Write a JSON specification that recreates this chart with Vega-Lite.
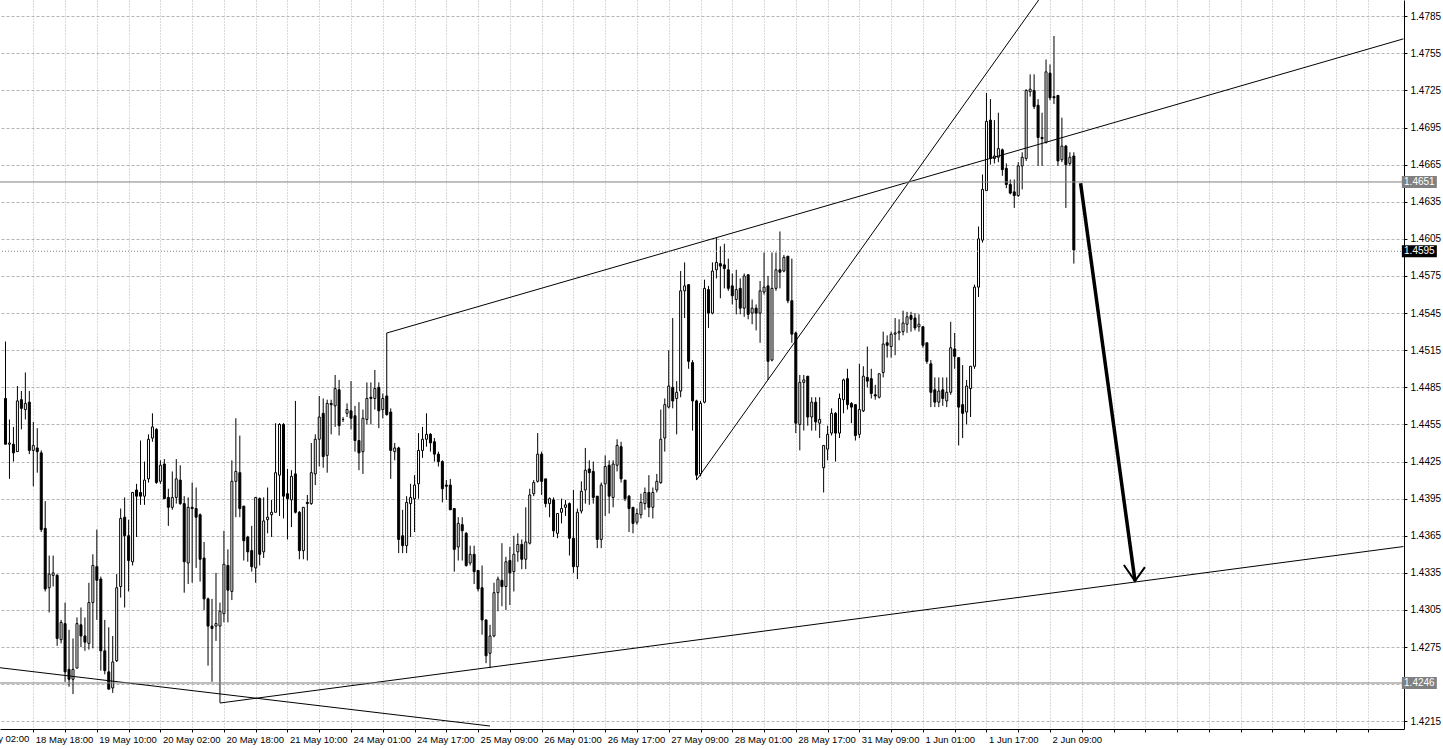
{
"$schema": "https://vega.github.io/schema/vega-lite/v6.json",
"width": 1404, "height": 729,
"autosize": {"type": "none"},
"padding": {"left": 0, "top": 0, "right": 39, "bottom": 20},
"background": "white",
"config": {"view": {"stroke": null}, "axis": {"labelFont": "Liberation Sans", "labelFontSize": 10, "labelColor": "black", "domainColor": "black", "tickColor": "black", "domainWidth": 1}},
"datasets": {
"bars": [
{"i":0,"o":1.4476,"h":1.4522,"l":1.4439,"c":1.4439},
{"i":1,"o":1.4439,"h":1.4459,"l":1.4411,"c":1.4440},
{"i":2,"o":1.4439,"h":1.4453,"l":1.4425,"c":1.4432},
{"i":3,"o":1.4433,"h":1.4486,"l":1.4433,"c":1.4474},
{"i":4,"o":1.4475,"h":1.4482,"l":1.4451,"c":1.4468},
{"i":5,"o":1.4467,"h":1.4497,"l":1.4459,"c":1.4472},
{"i":6,"o":1.4473,"h":1.4482,"l":1.4431,"c":1.4434},
{"i":7,"o":1.4434,"h":1.4457,"l":1.4405,"c":1.4438},
{"i":8,"o":1.4436,"h":1.4452,"l":1.4416,"c":1.4433},
{"i":9,"o":1.4432,"h":1.4434,"l":1.4368,"c":1.4370},
{"i":10,"o":1.4371,"h":1.4393,"l":1.4320,"c":1.4322},
{"i":11,"o":1.4323,"h":1.4349,"l":1.4303,"c":1.4334},
{"i":12,"o":1.4333,"h":1.4349,"l":1.4324,"c":1.4335},
{"i":13,"o":1.4333,"h":1.4334,"l":1.4276,"c":1.4282},
{"i":14,"o":1.4281,"h":1.4297,"l":1.4278,"c":1.4295},
{"i":15,"o":1.4294,"h":1.4311,"l":1.4247,"c":1.4255},
{"i":16,"o":1.4257,"h":1.4289,"l":1.4243,"c":1.4249},
{"i":17,"o":1.4249,"h":1.4282,"l":1.4237,"c":1.4257},
{"i":18,"o":1.4258,"h":1.4299,"l":1.4258,"c":1.4294},
{"i":19,"o":1.4293,"h":1.4307,"l":1.4275,"c":1.4284},
{"i":20,"o":1.4284,"h":1.4299,"l":1.4272,"c":1.4279},
{"i":21,"o":1.4278,"h":1.4327,"l":1.4273,"c":1.4311},
{"i":22,"o":1.4311,"h":1.4350,"l":1.4274,"c":1.4341},
{"i":23,"o":1.4340,"h":1.4370,"l":1.4297,"c":1.4329},
{"i":24,"o":1.4330,"h":1.4332,"l":1.4256,"c":1.4272},
{"i":25,"o":1.4272,"h":1.4297,"l":1.4253,"c":1.4256},
{"i":26,"o":1.4255,"h":1.4291,"l":1.4241,"c":1.4241},
{"i":27,"o":1.4242,"h":1.4284,"l":1.4238,"c":1.4263},
{"i":28,"o":1.4264,"h":1.4334,"l":1.4263,"c":1.4323},
{"i":29,"o":1.4324,"h":1.4387,"l":1.4315,"c":1.4379},
{"i":30,"o":1.4380,"h":1.4396,"l":1.4307,"c":1.4365},
{"i":31,"o":1.4365,"h":1.4378,"l":1.4320,"c":1.4345},
{"i":32,"o":1.4344,"h":1.4400,"l":1.4341,"c":1.4400},
{"i":33,"o":1.4402,"h":1.4407,"l":1.4364,"c":1.4397},
{"i":34,"o":1.4400,"h":1.4442,"l":1.4390,"c":1.4397},
{"i":35,"o":1.4397,"h":1.4425,"l":1.4390,"c":1.4410},
{"i":36,"o":1.4411,"h":1.4447,"l":1.4408,"c":1.4443},
{"i":37,"o":1.4444,"h":1.4464,"l":1.4441,"c":1.4453},
{"i":38,"o":1.4451,"h":1.4452,"l":1.4407,"c":1.4408},
{"i":39,"o":1.4409,"h":1.4426,"l":1.4407,"c":1.4422},
{"i":40,"o":1.4423,"h":1.4427,"l":1.4395,"c":1.4395},
{"i":41,"o":1.4396,"h":1.4403,"l":1.4373,"c":1.4388},
{"i":42,"o":1.4388,"h":1.4417,"l":1.4386,"c":1.4396},
{"i":43,"o":1.4396,"h":1.4427,"l":1.4391,"c":1.4411},
{"i":44,"o":1.4410,"h":1.4422,"l":1.4390,"c":1.4391},
{"i":45,"o":1.4391,"h":1.4397,"l":1.4319,"c":1.4344},
{"i":46,"o":1.4343,"h":1.4396,"l":1.4326,"c":1.4388},
{"i":47,"o":1.4388,"h":1.4408,"l":1.4327,"c":1.4387},
{"i":48,"o":1.4387,"h":1.4404,"l":1.4339,"c":1.4380},
{"i":49,"o":1.4382,"h":1.4383,"l":1.4328,"c":1.4346},
{"i":50,"o":1.4347,"h":1.4360,"l":1.4305,"c":1.4314},
{"i":51,"o":1.4314,"h":1.4315,"l":1.4260,"c":1.4292},
{"i":52,"o":1.4292,"h":1.4314,"l":1.4247,"c":1.4290},
{"i":53,"o":1.4292,"h":1.4335,"l":1.4280,"c":1.4294},
{"i":54,"o":1.4292,"h":1.4311,"l":1.4230,"c":1.4304},
{"i":55,"o":1.4302,"h":1.4369,"l":1.4295,"c":1.4342},
{"i":56,"o":1.4341,"h":1.4354,"l":1.4295,"c":1.4321},
{"i":57,"o":1.4320,"h":1.4426,"l":1.4313,"c":1.4409},
{"i":58,"o":1.4409,"h":1.4460,"l":1.4380,"c":1.4417},
{"i":59,"o":1.4416,"h":1.4446,"l":1.4380,"c":1.4387},
{"i":60,"o":1.4389,"h":1.4389,"l":1.4345,"c":1.4361},
{"i":61,"o":1.4364,"h":1.4365,"l":1.4344,"c":1.4352},
{"i":62,"o":1.4353,"h":1.4373,"l":1.4336,"c":1.4340},
{"i":63,"o":1.4339,"h":1.4396,"l":1.4327,"c":1.4396},
{"i":64,"o":1.4395,"h":1.4396,"l":1.4341,"c":1.4350},
{"i":65,"o":1.4352,"h":1.4396,"l":1.4347,"c":1.4377},
{"i":66,"o":1.4378,"h":1.4404,"l":1.4367,"c":1.4380},
{"i":67,"o":1.4382,"h":1.4394,"l":1.4364,"c":1.4384},
{"i":68,"o":1.4384,"h":1.4456,"l":1.4384,"c":1.4416},
{"i":69,"o":1.4414,"h":1.4456,"l":1.4381,"c":1.4455},
{"i":70,"o":1.4455,"h":1.4456,"l":1.4379,"c":1.4397},
{"i":71,"o":1.4399,"h":1.4419,"l":1.4362,"c":1.4395},
{"i":72,"o":1.4394,"h":1.4418,"l":1.4372,"c":1.4413},
{"i":73,"o":1.4415,"h":1.4474,"l":1.4383,"c":1.4384},
{"i":74,"o":1.4384,"h":1.4385,"l":1.4346,"c":1.4353},
{"i":75,"o":1.4353,"h":1.4388,"l":1.4346,"c":1.4388},
{"i":76,"o":1.4392,"h":1.4398,"l":1.4345,"c":1.4391},
{"i":77,"o":1.4391,"h":1.4440,"l":1.4390,"c":1.4416},
{"i":78,"o":1.4415,"h":1.4447,"l":1.4406,"c":1.4443},
{"i":79,"o":1.4443,"h":1.4478,"l":1.4421,"c":1.4461},
{"i":80,"o":1.4464,"h":1.4476,"l":1.4420,"c":1.4429},
{"i":81,"o":1.4430,"h":1.4475,"l":1.4416,"c":1.4472},
{"i":82,"o":1.4472,"h":1.4475,"l":1.4447,"c":1.4471},
{"i":83,"o":1.4470,"h":1.4495,"l":1.4453,"c":1.4484},
{"i":84,"o":1.4483,"h":1.4491,"l":1.4446,"c":1.4454},
{"i":85,"o":1.4459,"h":1.4461,"l":1.4457,"c":1.4459},
{"i":86,"o":1.4464,"h":1.4472,"l":1.4461,"c":1.4467},
{"i":87,"o":1.4466,"h":1.4490,"l":1.4451,"c":1.4460},
{"i":88,"o":1.4462,"h":1.4470,"l":1.4433,"c":1.4442},
{"i":89,"o":1.4442,"h":1.4473,"l":1.4418,"c":1.4432},
{"i":90,"o":1.4433,"h":1.4467,"l":1.4415,"c":1.4460},
{"i":91,"o":1.4459,"h":1.4489,"l":1.4455,"c":1.4476},
{"i":92,"o":1.4477,"h":1.4489,"l":1.4455,"c":1.4476},
{"i":93,"o":1.4476,"h":1.4499,"l":1.4467,"c":1.4484},
{"i":94,"o":1.4485,"h":1.4489,"l":1.4452,"c":1.4466},
{"i":95,"o":1.4467,"h":1.4480,"l":1.4460,"c":1.4476},
{"i":96,"o":1.4478,"h":1.4529,"l":1.4462,"c":1.4463},
{"i":97,"o":1.4465,"h":1.4468,"l":1.4411,"c":1.4434},
{"i":98,"o":1.4433,"h":1.4440,"l":1.4426,"c":1.4436},
{"i":99,"o":1.4436,"h":1.4437,"l":1.4351,"c":1.4362},
{"i":100,"o":1.4365,"h":1.4386,"l":1.4351,"c":1.4357},
{"i":101,"o":1.4357,"h":1.4397,"l":1.4351,"c":1.4392},
{"i":102,"o":1.4391,"h":1.4407,"l":1.4364,"c":1.4396},
{"i":103,"o":1.4395,"h":1.4414,"l":1.4368,"c":1.4406},
{"i":104,"o":1.4407,"h":1.4448,"l":1.4395,"c":1.4434},
{"i":105,"o":1.4434,"h":1.4453,"l":1.4428,"c":1.4443},
{"i":106,"o":1.4443,"h":1.4464,"l":1.4437,"c":1.4447},
{"i":107,"o":1.4447,"h":1.4448,"l":1.4433,"c":1.4440},
{"i":108,"o":1.4441,"h":1.4444,"l":1.4425,"c":1.4431},
{"i":109,"o":1.4431,"h":1.4433,"l":1.4421,"c":1.4425},
{"i":110,"o":1.4425,"h":1.4426,"l":1.4392,"c":1.4403},
{"i":111,"o":1.4406,"h":1.4410,"l":1.4394,"c":1.4405},
{"i":112,"o":1.4406,"h":1.4411,"l":1.4386,"c":1.4386},
{"i":113,"o":1.4387,"h":1.4387,"l":1.4336,"c":1.4354},
{"i":114,"o":1.4356,"h":1.4380,"l":1.4345,"c":1.4375},
{"i":115,"o":1.4374,"h":1.4380,"l":1.4345,"c":1.4369},
{"i":116,"o":1.4367,"h":1.4368,"l":1.4340,"c":1.4341},
{"i":117,"o":1.4343,"h":1.4357,"l":1.4341,"c":1.4350},
{"i":118,"o":1.4350,"h":1.4357,"l":1.4326,"c":1.4336},
{"i":119,"o":1.4337,"h":1.4337,"l":1.4320,"c":1.4322},
{"i":120,"o":1.4323,"h":1.4341,"l":1.4285,"c":1.4297},
{"i":121,"o":1.4297,"h":1.4297,"l":1.4262,"c":1.4268},
{"i":122,"o":1.4270,"h":1.4293,"l":1.4258,"c":1.4284},
{"i":123,"o":1.4284,"h":1.4327,"l":1.4283,"c":1.4319},
{"i":124,"o":1.4319,"h":1.4332,"l":1.4304,"c":1.4330},
{"i":125,"o":1.4329,"h":1.4359,"l":1.4308,"c":1.4324},
{"i":126,"o":1.4324,"h":1.4348,"l":1.4305,"c":1.4344},
{"i":127,"o":1.4345,"h":1.4356,"l":1.4309,"c":1.4335},
{"i":128,"o":1.4336,"h":1.4365,"l":1.4320,"c":1.4350},
{"i":129,"o":1.4352,"h":1.4367,"l":1.4344,"c":1.4358},
{"i":130,"o":1.4358,"h":1.4362,"l":1.4338,"c":1.4346},
{"i":131,"o":1.4346,"h":1.4388,"l":1.4338,"c":1.4360},
{"i":132,"o":1.4359,"h":1.4403,"l":1.4358,"c":1.4398},
{"i":133,"o":1.4399,"h":1.4410,"l":1.4397,"c":1.4408},
{"i":134,"o":1.4409,"h":1.4448,"l":1.4408,"c":1.4431},
{"i":135,"o":1.4431,"h":1.4433,"l":1.4398,"c":1.4409},
{"i":136,"o":1.4411,"h":1.4411,"l":1.4388,"c":1.4391},
{"i":137,"o":1.4391,"h":1.4396,"l":1.4380,"c":1.4395},
{"i":138,"o":1.4394,"h":1.4396,"l":1.4364,"c":1.4369},
{"i":139,"o":1.4367,"h":1.4383,"l":1.4363,"c":1.4383},
{"i":140,"o":1.4384,"h":1.4395,"l":1.4375,"c":1.4387},
{"i":141,"o":1.4388,"h":1.4394,"l":1.4381,"c":1.4390},
{"i":142,"o":1.4391,"h":1.4392,"l":1.4349,"c":1.4363},
{"i":143,"o":1.4363,"h":1.4402,"l":1.4335,"c":1.4340},
{"i":144,"o":1.4340,"h":1.4387,"l":1.4330,"c":1.4384},
{"i":145,"o":1.4385,"h":1.4409,"l":1.4383,"c":1.4401},
{"i":146,"o":1.4402,"h":1.4436,"l":1.4391,"c":1.4418},
{"i":147,"o":1.4419,"h":1.4426,"l":1.4390,"c":1.4416},
{"i":148,"o":1.4417,"h":1.4425,"l":1.4391,"c":1.4396},
{"i":149,"o":1.4397,"h":1.4397,"l":1.4355,"c":1.4362},
{"i":150,"o":1.4362,"h":1.4408,"l":1.4355,"c":1.4406},
{"i":151,"o":1.4407,"h":1.4430,"l":1.4381,"c":1.4421},
{"i":152,"o":1.4422,"h":1.4426,"l":1.4383,"c":1.4397},
{"i":153,"o":1.4396,"h":1.4426,"l":1.4388,"c":1.4423},
{"i":154,"o":1.4422,"h":1.4443,"l":1.4417,"c":1.4438},
{"i":155,"o":1.4437,"h":1.4441,"l":1.4408,"c":1.4411},
{"i":156,"o":1.4410,"h":1.4410,"l":1.4393,"c":1.4395},
{"i":157,"o":1.4397,"h":1.4398,"l":1.4368,"c":1.4387},
{"i":158,"o":1.4388,"h":1.4388,"l":1.4367,"c":1.4375},
{"i":159,"o":1.4376,"h":1.4387,"l":1.4374,"c":1.4383},
{"i":160,"o":1.4382,"h":1.4399,"l":1.4379,"c":1.4392},
{"i":161,"o":1.4391,"h":1.4404,"l":1.4386,"c":1.4400},
{"i":162,"o":1.4400,"h":1.4414,"l":1.4380,"c":1.4388},
{"i":163,"o":1.4388,"h":1.4404,"l":1.4379,"c":1.4400},
{"i":164,"o":1.4402,"h":1.4415,"l":1.4400,"c":1.4409},
{"i":165,"o":1.4408,"h":1.4467,"l":1.4407,"c":1.4443},
{"i":166,"o":1.4444,"h":1.4476,"l":1.4433,"c":1.4471},
{"i":167,"o":1.4469,"h":1.4515,"l":1.4468,"c":1.4486},
{"i":168,"o":1.4485,"h":1.4541,"l":1.4468,"c":1.4474},
{"i":169,"o":1.4476,"h":1.4490,"l":1.4447,"c":1.4481},
{"i":170,"o":1.4482,"h":1.4579,"l":1.4477,"c":1.4563},
{"i":171,"o":1.4563,"h":1.4586,"l":1.4541,"c":1.4567},
{"i":172,"o":1.4568,"h":1.4568,"l":1.4500,"c":1.4506},
{"i":173,"o":1.4505,"h":1.4507,"l":1.4450,"c":1.4474},
{"i":174,"o":1.4474,"h":1.4475,"l":1.4410,"c":1.4414},
{"i":175,"o":1.4415,"h":1.4474,"l":1.4413,"c":1.4472},
{"i":176,"o":1.4473,"h":1.4572,"l":1.4472,"c":1.4565},
{"i":177,"o":1.4564,"h":1.4567,"l":1.4533,"c":1.4545},
{"i":178,"o":1.4545,"h":1.4586,"l":1.4544,"c":1.4579},
{"i":179,"o":1.4580,"h":1.4606,"l":1.4573,"c":1.4586},
{"i":180,"o":1.4585,"h":1.4599,"l":1.4557,"c":1.4583},
{"i":181,"o":1.4584,"h":1.4601,"l":1.4565,"c":1.4581},
{"i":182,"o":1.4580,"h":1.4589,"l":1.4563,"c":1.4565},
{"i":183,"o":1.4567,"h":1.4577,"l":1.4552,"c":1.4559},
{"i":184,"o":1.4556,"h":1.4580,"l":1.4544,"c":1.4564},
{"i":185,"o":1.4565,"h":1.4573,"l":1.4544,"c":1.4549},
{"i":186,"o":1.4549,"h":1.4577,"l":1.4542,"c":1.4575},
{"i":187,"o":1.4576,"h":1.4576,"l":1.4540,"c":1.4544},
{"i":188,"o":1.4545,"h":1.4556,"l":1.4536,"c":1.4549},
{"i":189,"o":1.4549,"h":1.4552,"l":1.4531,"c":1.4545},
{"i":190,"o":1.4545,"h":1.4571,"l":1.4521,"c":1.4563},
{"i":191,"o":1.4562,"h":1.4594,"l":1.4560,"c":1.4566},
{"i":192,"o":1.4567,"h":1.4575,"l":1.4491,"c":1.4506},
{"i":193,"o":1.4507,"h":1.4594,"l":1.4506,"c":1.4565},
{"i":194,"o":1.4565,"h":1.4594,"l":1.4563,"c":1.4580},
{"i":195,"o":1.4580,"h":1.4611,"l":1.4565,"c":1.4578},
{"i":196,"o":1.4579,"h":1.4592,"l":1.4578,"c":1.4590},
{"i":197,"o":1.4591,"h":1.4591,"l":1.4553,"c":1.4555},
{"i":198,"o":1.4555,"h":1.4589,"l":1.4521,"c":1.4528},
{"i":199,"o":1.4529,"h":1.4530,"l":1.4448,"c":1.4456},
{"i":200,"o":1.4455,"h":1.4495,"l":1.4434,"c":1.4489},
{"i":201,"o":1.4489,"h":1.4495,"l":1.4450,"c":1.4491},
{"i":202,"o":1.4494,"h":1.4494,"l":1.4454,"c":1.4461},
{"i":203,"o":1.4461,"h":1.4477,"l":1.4450,"c":1.4473},
{"i":204,"o":1.4473,"h":1.4477,"l":1.4450,"c":1.4457},
{"i":205,"o":1.4456,"h":1.4477,"l":1.4444,"c":1.4459},
{"i":206,"o":1.4420,"h":1.4438,"l":1.4400,"c":1.4438},
{"i":207,"o":1.4435,"h":1.4454,"l":1.4426,"c":1.4447},
{"i":208,"o":1.4448,"h":1.4468,"l":1.4446,"c":1.4464},
{"i":209,"o":1.4464,"h":1.4465,"l":1.4425,"c":1.4448},
{"i":210,"o":1.4448,"h":1.4480,"l":1.4444,"c":1.4476},
{"i":211,"o":1.4475,"h":1.4492,"l":1.4464,"c":1.4491},
{"i":212,"o":1.4492,"h":1.4500,"l":1.4467,"c":1.4471},
{"i":213,"o":1.4472,"h":1.4473,"l":1.4456,"c":1.4469},
{"i":214,"o":1.4471,"h":1.4471,"l":1.4442,"c":1.4446},
{"i":215,"o":1.4447,"h":1.4504,"l":1.4444,"c":1.4467},
{"i":216,"o":1.4466,"h":1.4502,"l":1.4465,"c":1.4494},
{"i":217,"o":1.4493,"h":1.4518,"l":1.4485,"c":1.4490},
{"i":218,"o":1.4492,"h":1.4500,"l":1.4476,"c":1.4480},
{"i":219,"o":1.4479,"h":1.4487,"l":1.4475,"c":1.4478},
{"i":220,"o":1.4477,"h":1.4496,"l":1.4476,"c":1.4496},
{"i":221,"o":1.4497,"h":1.4530,"l":1.4493,"c":1.4520},
{"i":222,"o":1.4521,"h":1.4527,"l":1.4509,"c":1.4519},
{"i":223,"o":1.4518,"h":1.4530,"l":1.4509,"c":1.4528},
{"i":224,"o":1.4528,"h":1.4541,"l":1.4511,"c":1.4529},
{"i":225,"o":1.4529,"h":1.4540,"l":1.4523,"c":1.4530},
{"i":226,"o":1.4530,"h":1.4547,"l":1.4527,"c":1.4537},
{"i":227,"o":1.4536,"h":1.4546,"l":1.4529,"c":1.4542},
{"i":228,"o":1.4543,"h":1.4546,"l":1.4530,"c":1.4540},
{"i":229,"o":1.4541,"h":1.4545,"l":1.4531,"c":1.4533},
{"i":230,"o":1.4534,"h":1.4544,"l":1.4530,"c":1.4536},
{"i":231,"o":1.4534,"h":1.4534,"l":1.4517,"c":1.4519},
{"i":232,"o":1.4521,"h":1.4521,"l":1.4504,"c":1.4506},
{"i":233,"o":1.4504,"h":1.4507,"l":1.4469,"c":1.4481},
{"i":234,"o":1.4483,"h":1.4493,"l":1.4469,"c":1.4473},
{"i":235,"o":1.4473,"h":1.4493,"l":1.4469,"c":1.4482},
{"i":236,"o":1.4483,"h":1.4493,"l":1.4470,"c":1.4476},
{"i":237,"o":1.4474,"h":1.4493,"l":1.4469,"c":1.4481},
{"i":238,"o":1.4481,"h":1.4538,"l":1.4479,"c":1.4517},
{"i":239,"o":1.4516,"h":1.4529,"l":1.4500,"c":1.4510},
{"i":240,"o":1.4509,"h":1.4509,"l":1.4438,"c":1.4469},
{"i":241,"o":1.4471,"h":1.4503,"l":1.4444,"c":1.4464},
{"i":242,"o":1.4465,"h":1.4491,"l":1.4455,"c":1.4486},
{"i":243,"o":1.4484,"h":1.4502,"l":1.4461,"c":1.4502},
{"i":244,"o":1.4502,"h":1.4568,"l":1.4500,"c":1.4566},
{"i":245,"o":1.4566,"h":1.4615,"l":1.4558,"c":1.4605},
{"i":246,"o":1.4604,"h":1.4657,"l":1.4602,"c":1.4645},
{"i":247,"o":1.4644,"h":1.4723,"l":1.4644,"c":1.4700},
{"i":248,"o":1.4701,"h":1.4718,"l":1.4665,"c":1.4670},
{"i":249,"o":1.4670,"h":1.4701,"l":1.4666,"c":1.4672},
{"i":250,"o":1.4671,"h":1.4707,"l":1.4667,"c":1.4678},
{"i":251,"o":1.4677,"h":1.4678,"l":1.4656,"c":1.4661},
{"i":252,"o":1.4662,"h":1.4666,"l":1.4646,"c":1.4649},
{"i":253,"o":1.4649,"h":1.4653,"l":1.4641,"c":1.4642},
{"i":254,"o":1.4643,"h":1.4653,"l":1.4630,"c":1.4640},
{"i":255,"o":1.4640,"h":1.4667,"l":1.4639,"c":1.4664},
{"i":256,"o":1.4664,"h":1.4675,"l":1.4645,"c":1.4671},
{"i":257,"o":1.4670,"h":1.4726,"l":1.4668,"c":1.4725},
{"i":258,"o":1.4724,"h":1.4738,"l":1.4720,"c":1.4726},
{"i":259,"o":1.4725,"h":1.4738,"l":1.4710,"c":1.4712},
{"i":260,"o":1.4713,"h":1.4718,"l":1.4664,"c":1.4687},
{"i":261,"o":1.4687,"h":1.4707,"l":1.4664,"c":1.4686},
{"i":262,"o":1.4683,"h":1.4750,"l":1.4682,"c":1.4740},
{"i":263,"o":1.4739,"h":1.4746,"l":1.4717,"c":1.4719},
{"i":264,"o":1.4720,"h":1.4769,"l":1.4714,"c":1.4719},
{"i":265,"o":1.4721,"h":1.4721,"l":1.4664,"c":1.4668},
{"i":266,"o":1.4669,"h":1.4703,"l":1.4667,"c":1.4680},
{"i":267,"o":1.4680,"h":1.4681,"l":1.4630,"c":1.4665},
{"i":268,"o":1.4666,"h":1.4675,"l":1.4664,"c":1.4671},
{"i":269,"o":1.4672,"h":1.4675,"l":1.4585,"c":1.4596}
],
"lines": [
{"id":"a","i":-5,"p":1.42597},{"id":"a","i":122,"p":1.42112},
{"id":"b","i":54,"p":1.42298},{"id":"b","i":352,"p":1.43563},
{"id":"c","i":96,"p":1.45289},{"id":"c","i":352,"p":1.47667},
{"id":"d","i":174,"p":1.44101},{"id":"d","i":270,"p":1.48425}
],
"arrow": [
{"id":"shaft","i":270.7,"p":1.46499},{"id":"shaft","i":284.4,"p":1.43284},
{"id":"head","i":281.6,"p":1.43414},{"id":"head","i":284.4,"p":1.43284},{"id":"head","i":286.9,"p":1.43397}
],
"levels": [
{"p":1.4651,"label":"1.4651","kind":"line"},
{"p":1.4595,"label":"1.4595","kind":"bid"},
{"p":1.4246,"label":"1.4246","kind":"line"}
]
},
"layer": [
{
"data": {"name": "bars"},
"mark": {"type": "rule", "color": "black", "strokeWidth": 1},
"encoding": {
"x": {"field": "i", "type": "quantitative", "title": null,
 "scale": {"domain": [-0.125, 350.875], "nice": false, "zero": false},
 "axis": {"orient": "bottom", "tickCount": 200, "values": [7,15,23,31,39,47,55,63,71,79,87,95,103,111,119,127,135,143,151,159,167,175,183,191,199,207,215,223,231,239,247,255,263,271,279,287,295,303,311,319,327,335,343],
  "labelExpr": "(datum.value + 9) % 16 == 0 ? ['18 May 02:00','18 May 18:00','19 May 10:00','20 May 02:00','20 May 18:00','21 May 10:00','24 May 01:00','24 May 17:00','25 May 09:00','26 May 01:00','26 May 17:00','27 May 09:00','28 May 01:00','28 May 17:00','31 May 09:00','1 Jun 01:00','1 Jun 17:00','2 Jun 09:00'][(datum.value + 9) / 16] || '' : ''",
  "labelAlign": "left", "labelBaseline": "top", "labelOffset": 2, "labelPadding": 2, "tickSize": 3,
  "labelFlush": false, "labelOverlap": false, "labelFontSize": 9.5,
  "grid": true, "gridColor": "#b4b4b4", "gridDash": [1, 2], "gridWidth": 1}},
"y": {"field": "l", "type": "quantitative", "title": null,
 "scale": {"domain": [1.42088, 1.47981], "nice": false, "zero": false},
 "axis": {"orient": "right", "tickCount": 200, "values": [1.4215,1.4245,1.4275,1.4305,1.4335,1.4365,1.4395,1.4425,1.4455,1.4485,1.4515,1.4545,1.4575,1.4605,1.4635,1.4665,1.4695,1.4725,1.4755,1.4785],
  "format": ".4f", "labelExpr": "abs(datum.value - 1.4245) < 0.00001 ? '' : datum.label",
  "tickSize": 3, "labelPadding": 3, "labelFontSize": 10, "labelOverlap": false,
  "grid": true, "gridColor": "#b4b4b4", "gridDash": [3, 2], "gridWidth": 1}},
"y2": {"field": "h"}
}
},
{
"data": {"name": "bars"},
"mark": {"type": "bar", "width": 2, "stroke": "black", "strokeWidth": 1},
"encoding": {
"x": {"field": "i", "type": "quantitative", "title": null},
"y": {"field": "o", "type": "quantitative", "title": null},
"y2": {"field": "c"},
"fill": {"condition": {"test": "datum.c >= datum.o", "value": "white"}, "value": "black"}
}
},
{
"data": {"name": "lines"},
"mark": {"type": "line", "color": "black", "strokeWidth": 1, "clip": true},
"encoding": {
"x": {"field": "i", "type": "quantitative", "title": null},
"y": {"field": "p", "type": "quantitative", "title": null},
"detail": {"field": "id"}
}
},
{
"data": {"name": "arrow"},
"transform": [{"filter": "datum.id == 'shaft'"}],
"mark": {"type": "line", "color": "black", "strokeWidth": 3.5, "clip": true},
"encoding": {
"x": {"field": "i", "type": "quantitative", "title": null},
"y": {"field": "p", "type": "quantitative", "title": null}
}
},
{
"data": {"name": "arrow"},
"transform": [{"filter": "datum.id == 'head'"}],
"mark": {"type": "line", "color": "black", "strokeWidth": 2, "clip": true},
"encoding": {
"x": {"field": "i", "type": "quantitative", "title": null},
"y": {"field": "p", "type": "quantitative", "title": null}
}
},
{
"data": {"name": "levels"},
"transform": [{"filter": "datum.kind == 'line'"}],
"mark": {"type": "rule", "color": "#808080", "strokeWidth": 1},
"encoding": {
"y": {"field": "p", "type": "quantitative", "title": null}
}
},
{
"data": {"name": "levels"},
"transform": [{"filter": "datum.kind == 'bid'"}],
"mark": {"type": "rule", "color": "#808080", "strokeWidth": 1, "strokeDash": [1, 2]},
"encoding": {
"y": {"field": "p", "type": "quantitative", "title": null}
}
},
{
"data": {"name": "levels"},
"mark": {"type": "tick", "orient": "horizontal", "size": 35, "thickness": 12, "opacity": 1},
"encoding": {
"x": {"datum": 356, "type": "quantitative"},
"y": {"field": "p", "type": "quantitative", "title": null},
"color": {"condition": {"test": "datum.kind == 'bid'", "value": "black"}, "value": "#808080"}
}
},
{
"data": {"name": "levels"},
"mark": {"type": "text", "color": "white", "font": "Liberation Sans", "fontSize": 10, "align": "center", "baseline": "middle"},
"encoding": {
"x": {"datum": 356, "type": "quantitative"},
"y": {"field": "p", "type": "quantitative", "title": null},
"text": {"field": "label"}
}
},
{
"data": {"values": [{"label": "18 May 02:00"}]},
"mark": {"type": "text", "color": "black", "font": "Liberation Sans", "fontSize": 9.5, "align": "left", "baseline": "top", "dx": 2},
"encoding": {
"x": {"datum": -9, "type": "quantitative"},
"y": {"datum": 1.42047, "type": "quantitative"},
"text": {"field": "label"}
}
}
]
}
